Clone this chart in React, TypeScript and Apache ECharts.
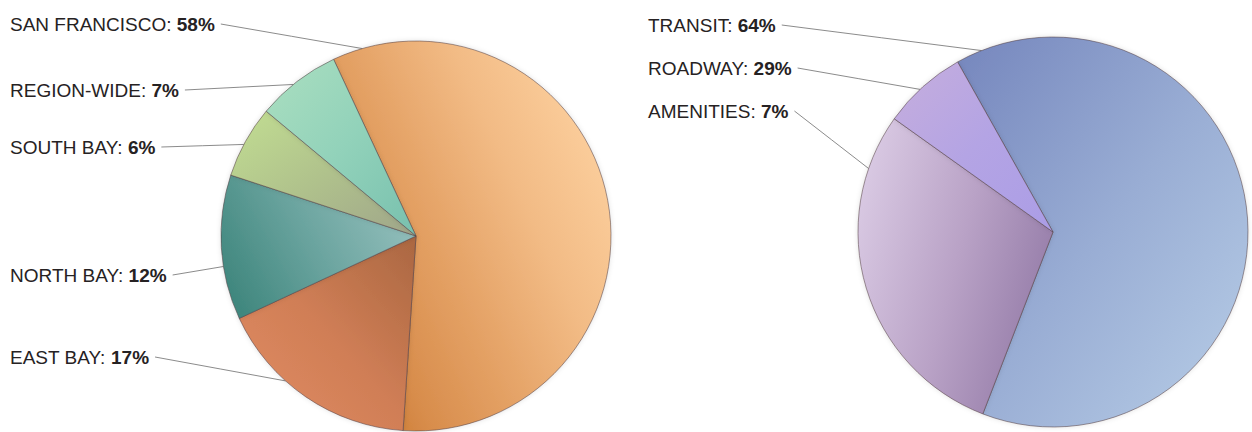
import React, { useEffect, useRef } from "react";
import * as echarts from "echarts";

// ---- data ----
const regionNames = ["SAN FRANCISCO", "EAST BAY", "NORTH BAY", "SOUTH BAY", "REGION-WIDE"];
const regionValues = [58, 17, 12, 6, 7];
const typeNames = ["TRANSIT", "ROADWAY", "AMENITIES"];
const typeValues = [64, 29, 7];

// ---- layout / style constants ----
const LEFT_CENTER = [416, 236];
const RIGHT_CENTER = [1053, 232];
const RADIUS = 195;
const regionLabelY = [24, 357, 275, 147, 90];
const regionLeaderAngle = [-16, -138, -99, -62, -39];
const typeLabelY = [25, 68, 111];
const typeLeaderAngle = [-21.5, -43, -71];

const grad = (x: number, y: number, x2: number, y2: number, stops: string[]) =>
  new echarts.graphic.LinearGradient(
    x, y, x2, y2,
    stops.map((c, i) => ({ offset: i / (stops.length - 1), color: c }))
  );

const regionColors = [
  grad(0, 1, 1, 0.35, ["#c26d1c", "#d88d4c", "#e5a367", "#f2bb85", "#fbcd9b"]),
  grad(1, 0, 0, 1, ["#aa6741", "#d07e56", "#e28d63"]),
  grad(0, 0.7, 1, 0.3, ["#40877e", "#6ca5a0", "#95c0bd"]),
  grad(0, 0, 1, 1, ["#c2de92", "#b0c28c", "#9fa58a"]),
  grad(0, 0, 1, 1, ["#abdfc0", "#92d2ba", "#78c0ae"]),
];
const typeColors = [
  grad(0, 0, 1, 1, ["#7586bd", "#99add4", "#b8cee7"]),
  grad(0, 0.3, 1, 0.7, ["#d8c8e2", "#b9a2c6", "#9279a6"]),
  grad(0, 0, 1, 1, ["#c6aedd", "#b4a4e4", "#ab9de6"]),
];

const textStyleRich = {
  n: { fontFamily: "Liberation Sans", fontSize: 19, color: "#262223" },
  b: { fontFamily: "Liberation Sans", fontSize: 19, fontWeight: "bold", color: "#262223" },
};

function makeSeries(
  names: string[],
  values: number[],
  colors: any[],
  center: number[],
  startAngle: number,
  labelX: number,
  labelYs: number[],
  leaderAngles: number[]
) {
  return {
    type: "pie",
    center,
    radius: RADIUS,
    startAngle,
    clockwise: true,
    avoidLabelOverlap: false,
    data: names.map((n, i) => ({
      name: n,
      value: values[i],
      itemStyle: { color: colors[i] },
    })),
    itemStyle: {
      borderColor: "rgba(85,65,70,0.55)",
      borderWidth: 1,
      shadowBlur: 5,
      shadowColor: "rgba(0,0,0,0.12)",
    },
    label: {
      show: true,
      position: "outside",
      formatter: (p: any) => `{n|${p.name}: }{b|${p.value}%}`,
      rich: textStyleRich,
    },
    labelLine: {
      show: true,
      smooth: false,
      lineStyle: { color: "#6d6d6d", width: 0.8 },
    },
    labelLayout: (params: any) => {
      const i = params.dataIndex;
      const y = labelYs[i];
      const w = params.labelRect.width;
      const sx = labelX + w + 6;
      const a = (leaderAngles[i] * Math.PI) / 180;
      const ex = center[0] + RADIUS * Math.sin(a);
      const ey = center[1] - RADIUS * Math.cos(a);
      return {
        x: labelX,
        y,
        align: "left",
        verticalAlign: "middle",
        labelLinePoints: [
          [ex, ey],
          [(ex + sx) / 2, (ey + y) / 2],
          [sx, y],
        ],
      };
    },
    emphasis: { disabled: true },
  };
}

export default function App() {
  const ref = useRef<HTMLDivElement>(null);
  useEffect(() => {
    document.body.style.margin = "0";
    const chart = echarts.init(ref.current!, undefined, { renderer: "svg" });
    chart.setOption({
      animation: false,
      backgroundColor: "#ffffff",
      series: [
        makeSeries(regionNames, regionValues, regionColors, LEFT_CENTER, 115, 10, regionLabelY, regionLeaderAngle),
        makeSeries(typeNames, typeValues, typeColors, RIGHT_CENTER, 119.3, 648, typeLabelY, typeLeaderAngle),
      ],
    });
    return () => chart.dispose();
  }, []);
  return <div ref={ref} style={{ width: 1252, height: 432 }} />;
}
